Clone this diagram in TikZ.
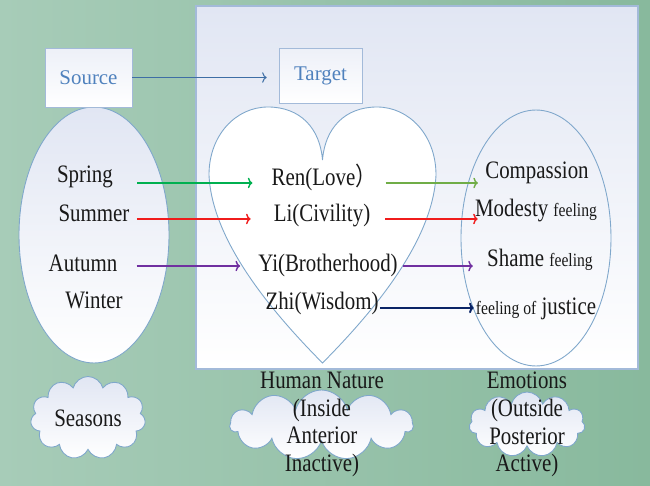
\documentclass[tikz,border=0pt]{standalone}
\usepackage{fontspec}
\setmainfont{Liberation Serif}
\newfontfamily\cjk{Noto Sans CJK SC}
\usepackage{xcolor}
\usetikzlibrary{positioning,arrows.meta,shapes.geometric,shapes.symbols}
\definecolor{bgl}{HTML}{A7CCB8}
\definecolor{bgr}{HTML}{88B99D}
\definecolor{pnl}{HTML}{E1E6F3}
\definecolor{edge}{HTML}{7FA7CB}
\definecolor{boxedge}{HTML}{A3BAD9}
\definecolor{srcblue}{HTML}{4F81BD}
\definecolor{linkblue}{HTML}{3E6EA5}
\definecolor{springg}{HTML}{00B050}
\definecolor{loveg}{HTML}{70AD47}
\definecolor{civred}{HTML}{F01C1C}
\definecolor{brpurple}{HTML}{7030A0}
\definecolor{wisnavy}{HTML}{0A2466}
\newcommand{\littletext}[1]{{\fontsize{8.9}{10}\selectfont #1}}

\begin{document}
\begin{tikzpicture}[x=0.02cm, y=-0.02cm,
        txt/.style = {font=\fontsize{11.9}{13.2}\selectfont, inner sep=0pt, text=black!90, yscale=1.2, transform shape},
        box/.style = {draw=boxedge, top color=pnl!60, bottom color=white, inner sep=0pt, text=srcblue, font=\fontsize{11.9}{14}\selectfont},
        oval/.style = {ellipse, draw=edge, line width=0.5pt, inner sep=0pt, minimum width=3cm, minimum height=5.12cm},
        puff/.style = {cloud, cloud puffs=11, cloud ignores aspect, draw=edge, line width=0.5pt, top color=pnl, bottom color=white, inner sep=0pt},
        lk/.style = {-{To[length=2.6pt, width=6pt]}, line width=0.8pt}]
    \shade[left color=bgl, right color=bgr] (0,0) rectangle (650,486);
    \useasboundingbox (0,0) rectangle (650,486);
    \path[draw=boxedge, line width=0.6pt, top color=pnl, bottom color=white] (196,6) rectangle (638,369);

    \node[oval, top color=pnl, bottom color=white] (seasons) at (94,235) {};
    \filldraw[fill=white, draw=edge, line width=0.5pt] (322.5,363)
        .. controls (270,310) and (212,240) .. (209,175)
        .. controls (209,135) and (236,107) .. (268,107)
        .. controls (300,107) and (320,128) .. (322.5,160)
        .. controls (325,128) and (345,107) .. (377,107)
        .. controls (409,107) and (436,135) .. (436,175)
        .. controls (433,240) and (375,310) .. (322.5,363) -- cycle;
    \node[oval] (emotions) at (536,238) {};

    \node[box, minimum width=1.74cm, minimum height=1.18cm] (src) at (88.5,77.5) {Source};
    \node[box, minimum width=1.66cm, minimum height=1.1cm] (tgt) at (320.5,75.5) {Target};
    \draw[lk, linkblue, line width=0.6pt, shorten >=6.8pt] (src.east) -- (src.east -| tgt.west);

    \node[txt] (spring) at (85,177) {Spring};
    \node[txt] (summer) at (94,213) {Summer};
    \node[txt] (autumn) at (83,263) {Autumn};
    \node[txt] (winter) at (94,300) {Winter};
    \node[txt] (ren) at (324,177) {Ren(Love{\cjk ）}};
    \node[txt] (li) at (322,216) {Li(Civility)};
    \node[txt] (yi) at (328,265) {Yi(Brotherhood)};
    \node[txt] (zhi) at (322,303) {Zhi(Wisdom)};
    \node[txt] (comp) at (537,173) {Compassion};
    \node[txt] (mod) at (536,211) {Modesty \littletext{feeling}};
    \node[txt] (shame) at (540,260) {Shame \littletext{feeling}};
    \node[txt] (just) at (536,309) {\littletext{feeling of} justice};

    \foreach \a/\b/\c/\d/\s/\e in {spring/ren/springg/3.4pt/13.6pt/10.8pt,
            summer/li/civred/3.4pt/4pt/13pt, autumn/yi/brpurple/1.7pt/10.8pt/10.2pt,
            ren/comp/loveg/3.4pt/5.1pt/4pt, li/mod/civred/1.7pt/8.5pt/-1.7pt,
            yi/shame/brpurple/0.6pt/2.8pt/8pt}
        \draw[lk, \c, shorten <=\s, shorten >=\e] ([yshift=-\d]\a.east) -- ([yshift=-\d]\a.east -| \b.west);
    \draw[lk, wisnavy, line width=1.1pt, shorten <=0.6pt, shorten >=1.1pt] ([yshift=-2.8pt]zhi.east) -- ([yshift=-2.8pt]zhi.east -| just.west);

    \node[puff, minimum width=2.3cm, minimum height=1.66cm] (seasoncloud) at (88,418) {};
    \node[puff, minimum width=3.66cm, minimum height=1.4cm] (naturecloud) at (321.5,425) {};
    \node[puff, minimum width=2.32cm, minimum height=1.3cm] (emotioncloud) at (527,424.5) {};
    \node[txt] (seasontxt) at (seasoncloud) {Seasons};
    \node[txt, align=center] (naturetxt) at (322,424.5) {Human Nature\\(Inside\\Anterior\\Inactive)};
    \node[txt, align=center] (emotiontxt) at (527,424.5) {Emotions\\(Outside\\Posterior\\Active)};
\end{tikzpicture}
\end{document}
